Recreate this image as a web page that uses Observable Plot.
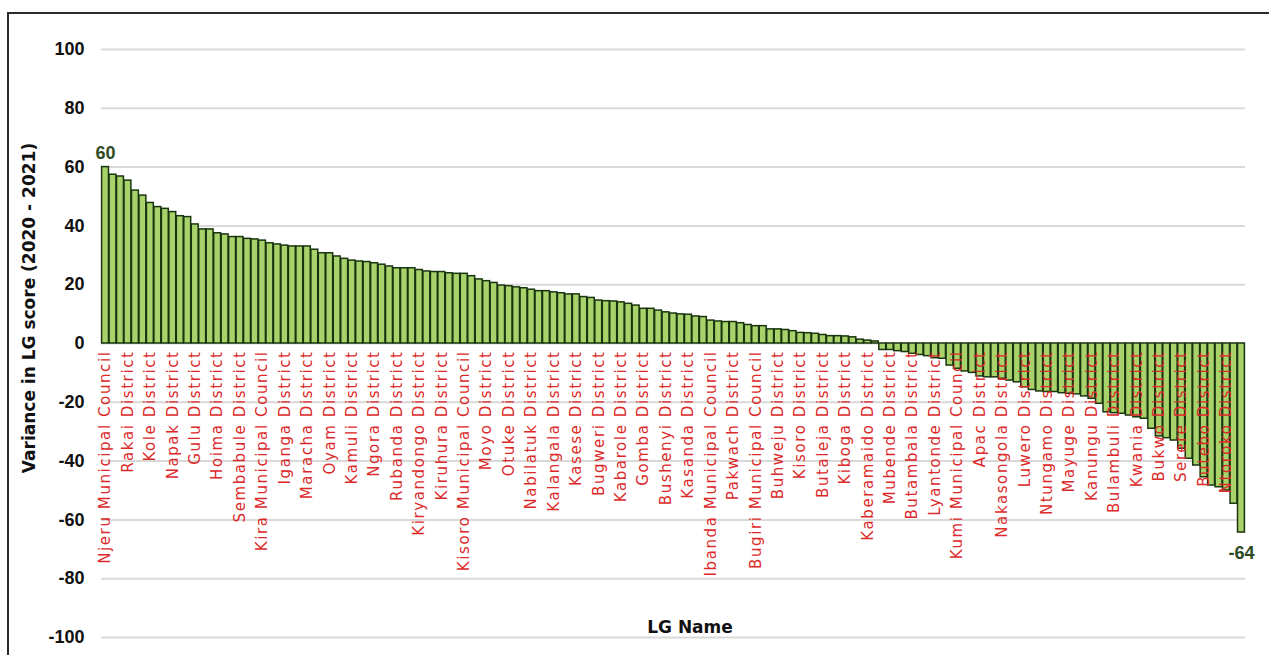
<!DOCTYPE html>
<html><head><meta charset="utf-8">
<script src="https://cdn.jsdelivr.net/npm/d3@7"></script>
<script src="https://cdn.jsdelivr.net/npm/@observablehq/plot@0.6"></script>
<style>
body{margin:0;background:#fff;}
#wrap{position:relative;width:1269px;height:655px;overflow:hidden;}
#frame{position:absolute;left:7px;top:12px;width:1300px;height:700px;border-top:2px solid #2b2b2b;border-left:2px solid #2b2b2b;pointer-events:none;}
</style></head><body><div id="wrap"><div id="frame"></div></div>
<script>
// LG names (every third LG is labelled in the chart)
const lgNames = [
 "Njeru Municipal Council","Rakai District","Kole District","Napak District","Gulu District",
 "Hoima District","Sembabule District","Kira Municipal Council","Iganga District","Maracha District",
 "Oyam District","Kamuli District","Ngora District","Rubanda District","Kiryandongo District",
 "Kiruhura District","Kisoro Municipal Council","Moyo District","Otuke District","Nabilatuk District",
 "Kalangala District","Kasese District","Bugweri District","Kabarole District","Gomba District",
 "Bushenyi District","Kasanda District","Ibanda Municipal Council","Pakwach District","Bugiri Municipal Council",
 "Buhweju District","Kisoro District","Butaleja District","Kiboga District","Kaberamaido District",
 "Mubende District","Butambala District","Lyantonde District","Kumi Municipal Council","Apac District",
 "Nakasongola District","Luwero District","Ntungamo District","Mayuge District","Kanungu District",
 "Bulambuli District","Kwania District","Bukwo District","Serere District","Butebo District",
 "Ntoroko District"
];
const labelStep = 3;

// Variance in LG score (2020 - 2021), one value per LG, sorted descending
const variance = [
 60, 57.4, 56.8, 55.4, 52.0, 50.3, 47.8, 46.4, 45.8, 44.7,
 43.3, 43.0, 40.5, 38.8, 38.8, 37.5, 37.1, 36.2, 36.2, 35.6,
 35.4, 35.0, 34.1, 33.7, 33.3, 33.0, 33.0, 33.0, 31.9, 30.7,
 30.7, 29.6, 28.8, 28.2, 27.9, 27.7, 27.3, 26.8, 26.2, 25.6,
 25.6, 25.6, 25.0, 24.5, 24.3, 24.3, 23.9, 23.7, 23.7, 22.9,
 21.8, 21.2, 20.6, 19.7, 19.5, 19.1, 18.8, 18.3, 17.8, 17.8,
 17.4, 17.1, 16.7, 16.7, 15.8, 15.5, 14.6, 14.4, 14.3, 14.0,
 13.5, 12.9, 11.8, 11.8, 11.2, 10.6, 10.2, 9.9, 9.8, 9.2,
 9.0, 7.8, 7.5, 7.3, 7.3, 6.9, 6.3, 5.9, 5.9, 4.8,
 4.8, 4.6, 4.2, 3.6, 3.5, 3.3, 2.9, 2.5, 2.5, 2.4,
 2.1, 1.3, 1.0, 0.7, -2.2, -2.2, -2.6, -2.9, -3.5, -3.9,
 -4.3, -5.0, -5.2, -7.5, -8.6, -9.5, -10.0, -11.2, -11.5, -11.5,
 -12.0, -12.6, -13.2, -14.9, -15.8, -16.3, -16.5, -16.5, -16.9, -17.1,
 -17.3, -18.0, -18.8, -20.5, -23.4, -23.7, -23.9, -24.5, -25.1, -25.6,
 -29.0, -31.6, -32.2, -33.0, -35.8, -39.2, -41.5, -45.5, -48.3, -48.9,
 -50.0, -54.5, -64.3
];

const yTicks = [-100, -80, -60, -40, -20, 0, 20, 40, 60, 80, 100];
const yTitle = "Variance in LG score (2020 - 2021)";
const xTitle = "LG Name";

const bars = variance.map((v, i) => ({i, v}));
const named = lgNames.map((name, k) => ({i: k * labelStep, name}));
const maxBar = bars.reduce((a, b) => (b.v > a.v ? b : a));
const minBar = bars.reduce((a, b) => (b.v < a.v ? b : a));

const chart = Plot.plot({
  width: 1269,
  height: 655,
  marginLeft: 101,
  marginRight: 24,
  marginTop: 49,
  marginBottom: 18,
  style: {background: "transparent", fontFamily: "Liberation Sans"},
  x: {type: "band", domain: d3.range(variance.length), padding: 0.08, axis: null},
  y: {domain: [-100, 100]},
  marks: [
    Plot.gridY(yTicks, {stroke: "#d9d9d9", strokeOpacity: 1, strokeWidth: 2}),
    Plot.axisY(yTicks, {tickSize: 0, tickPadding: 17, fontSize: 18, fontWeight: "bold", fill: "#111",
      label: null, tickFormat: d => String(d)}),
    Plot.barY(bars, {x: "i", y: "v", fill: "#a8d26a", stroke: "#193510", strokeWidth: 1.5}),
    Plot.text(named, {x: "i", y: 0, text: "name", rotate: -90, textAnchor: "end", dy: 7,
      fill: "#dc2a2a", fontSize: 15, fontFamily: "DejaVu Sans"}),
    Plot.text([maxBar], {x: "i", y: "v", text: d => String(Math.round(d.v)), lineAnchor: "bottom", dy: -8,
      fill: "#2d4a23", fontSize: 18, fontWeight: "bold"}),
    Plot.text([minBar], {x: "i", y: "v", text: d => String(Math.round(d.v)), lineAnchor: "top", dy: 14,
      fill: "#2d4a23", fontSize: 18, fontWeight: "bold"})
  ]
});

const svg = d3.select(chart);
svg.selectAll("text")
  .filter(function () { return lgNames.includes(this.textContent); })
  .attr("letter-spacing", "1.6px")
  .style("letter-spacing", "1.6px");
svg.append("text")
  .attr("transform", "translate(35,308) rotate(-90)")
  .attr("text-anchor", "middle")
  .attr("font-family", "DejaVu Sans")
  .attr("font-weight", "bold")
  .attr("font-size", 17)
  .attr("fill", "#111")
  .text(yTitle);
svg.append("text")
  .attr("x", 690).attr("y", 633)
  .attr("text-anchor", "middle")
  .attr("font-family", "DejaVu Sans")
  .attr("font-weight", "bold")
  .attr("font-size", 17)
  .attr("fill", "#111")
  .text(xTitle);

document.getElementById("wrap").prepend(chart);
</script>
</body></html>
